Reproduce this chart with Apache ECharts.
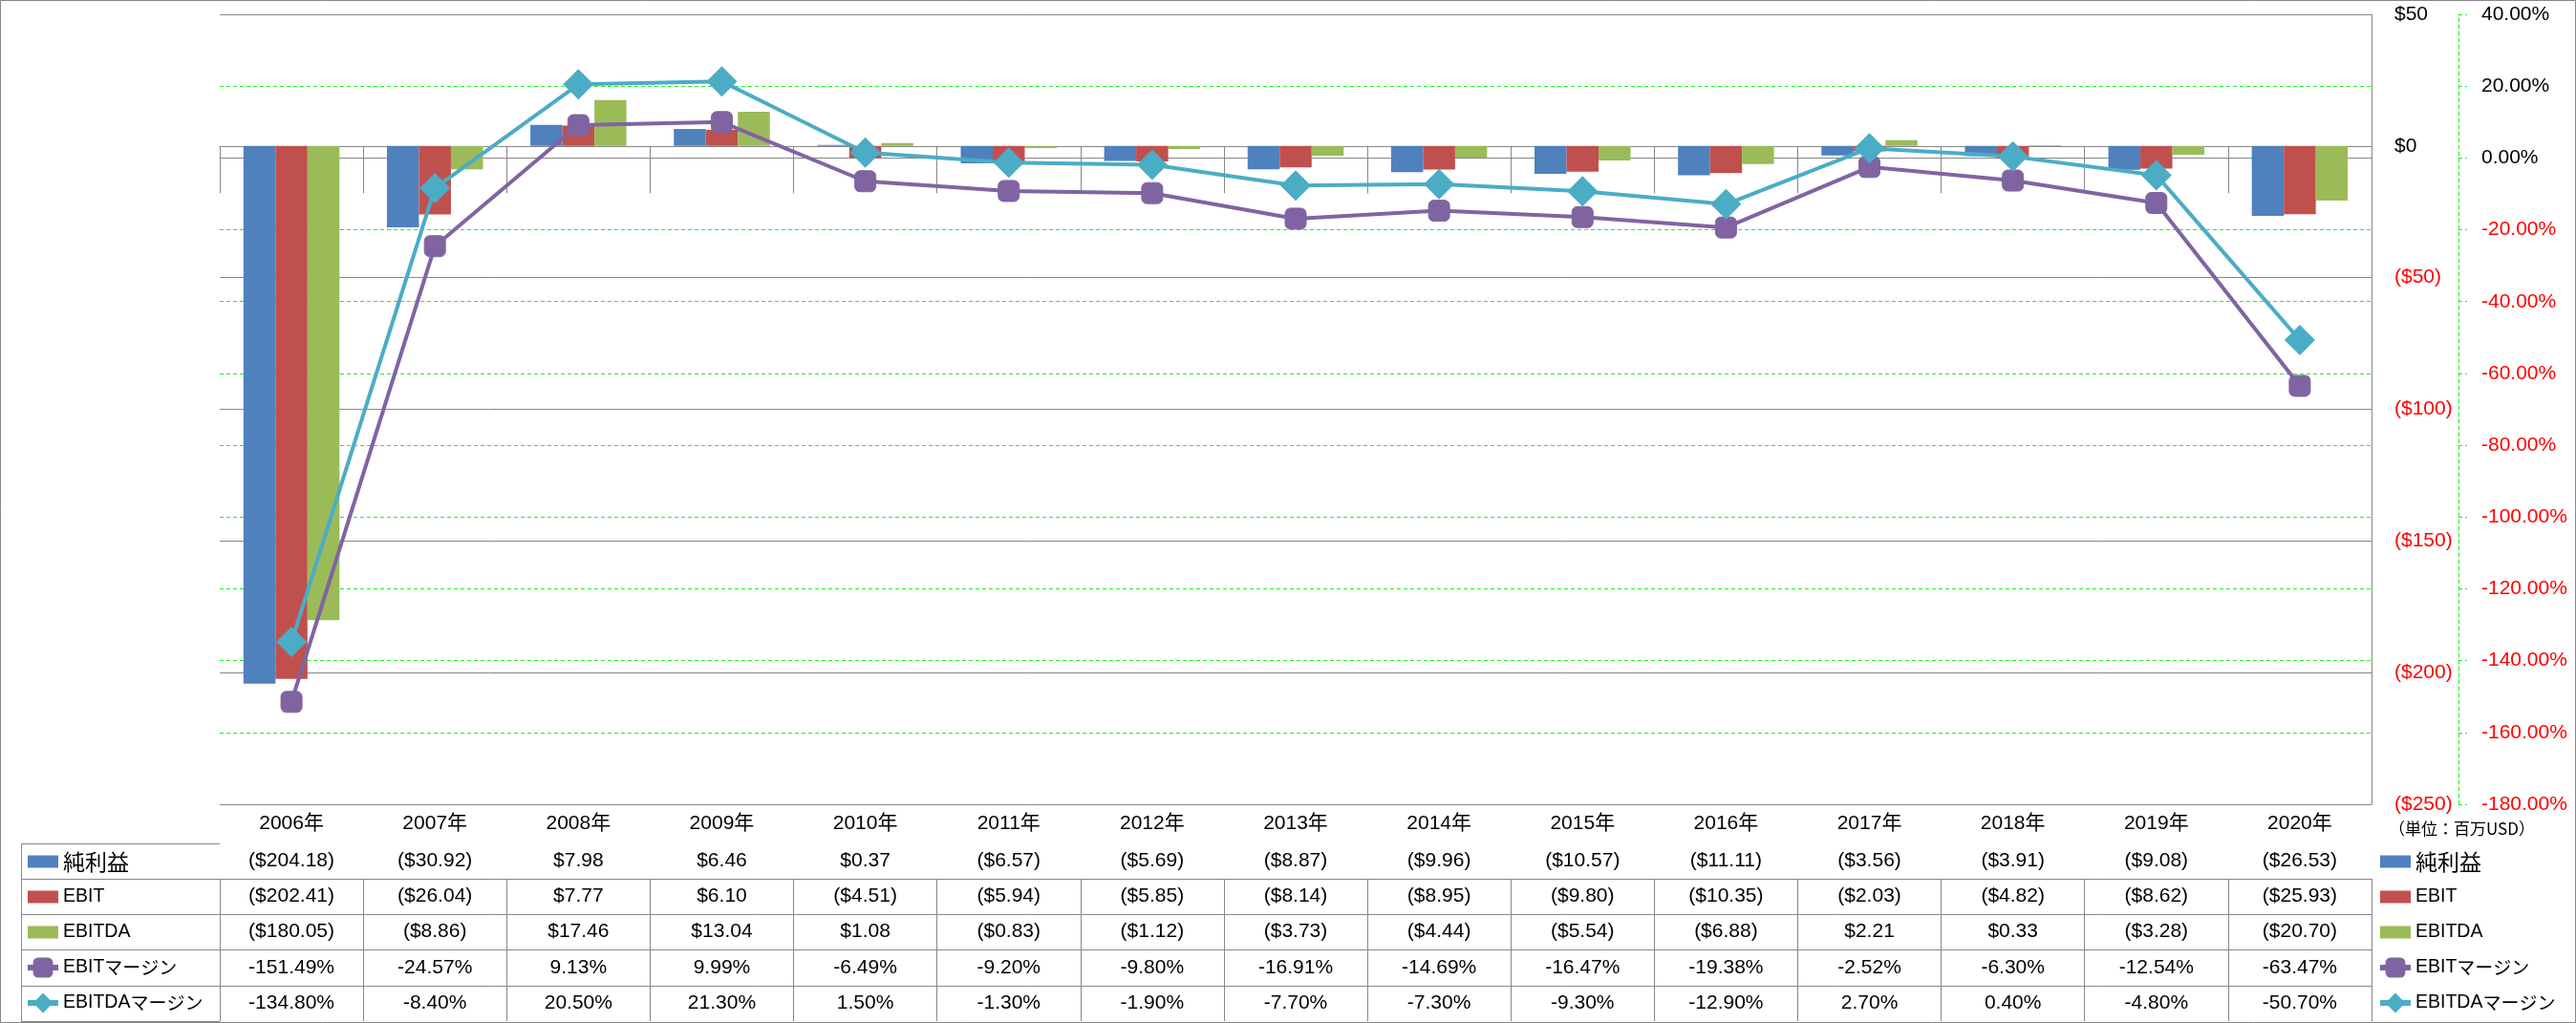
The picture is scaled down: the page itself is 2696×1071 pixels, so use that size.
<!DOCTYPE html>
<html><head><meta charset="utf-8">
<script src="https://cdn.jsdelivr.net/npm/echarts@6/dist/echarts.min.js"></script>
<style>html,body{margin:0;padding:0;background:#fff}#c{width:2696px;height:1071px}</style>
</head><body><div id="c"></div>
<script>
const years = ['2006年','2007年','2008年','2009年','2010年','2011年','2012年','2013年','2014年','2015年','2016年','2017年','2018年','2019年','2020年'];
const netIncome = [-204.18,-30.92,7.98,6.46,0.37,-6.57,-5.69,-8.87,-9.96,-10.57,-11.11,-3.56,-3.91,-9.08,-26.53];
const ebit = [-202.41,-26.04,7.77,6.10,-4.51,-5.94,-5.85,-8.14,-8.95,-9.80,-10.35,-2.03,-4.82,-8.62,-25.93];
const ebitda = [-180.05,-8.86,17.46,13.04,1.08,-0.83,-1.12,-3.73,-4.44,-5.54,-6.88,2.21,0.33,-3.28,-20.70];
const ebitMargin = [-151.49,-24.57,9.13,9.99,-6.49,-9.20,-9.80,-16.91,-14.69,-16.47,-19.38,-2.52,-6.30,-12.54,-63.47];
const ebitdaMargin = [-134.80,-8.40,20.50,21.30,1.50,-1.30,-1.90,-7.70,-7.30,-9.30,-12.90,2.70,0.40,-4.80,-50.70];
const seriesNames = ['純利益','EBIT','EBITDA','EBITマージン','EBITDAマージン'];
const unitText = '（単位：百万USD）';

const FONT = "'Liberation Sans','Noto Sans CJK JP',sans-serif";
const CJK = "'Noto Sans CJK JP',sans-serif";
const GRAY = '#878787';
const GREEN = '#22ee22';
const RED = '#ff0000';
const COLORS = ['#4F81BD','#C0504D','#9BBB59','#8064A2','#4BACC6'];

const money = v => v < 0 ? '($' + Math.abs(v).toFixed(2) + ')' : '$' + v.toFixed(2);
const pct = v => v.toFixed(2) + '%';

const gridTop = 15, gridBottomY = 842, W = 2696, H = 1071;
const rowTops = [883, 920, 957, 994, 1032];
const rowBottoms = [920, 957, 994, 1032, 1069];
const rowData = [netIncome.map(money), ebit.map(money), ebitda.map(money), ebitMargin.map(pct), ebitdaMargin.map(pct)];

const xAxes = [{
  type:'category', data: years, position:'bottom', gridIndex:0,
  axisLine:{show:true, lineStyle:{color:GRAY, width:1}},
  axisTick:{show:true, length: rowTops[0]-gridBottomY, lineStyle:{color:GRAY, width:1}, interval:0},
  axisLabel:{interval:0, margin:(rowTops[0]-gridBottomY)/2, verticalAlign:'middle', fontSize:21, fontFamily:FONT, color:'#000'},
  splitLine:{show:false}
}];
rowData.forEach((arr, k) => {
  const off = rowTops[k]-gridBottomY, h = rowBottoms[k]-rowTops[k];
  xAxes.push({
    type:'category', data: arr, position:'bottom', gridIndex:0, offset: off,
    axisLine:{show:true, lineStyle:{color:GRAY, width:1}},
    axisTick:{show:true, length:h, lineStyle:{color:GRAY, width:1}, interval:0},
    axisLabel:{interval:0, margin:h/2, verticalAlign:'middle', fontSize:21, fontFamily:FONT, color:'#000'},
    splitLine:{show:false}
  });
});

const graphics = [
  {type:'rect', shape:{x:0.5,y:0.5,width:W-1,height:H-1}, style:{fill:null, stroke:GRAY, lineWidth:1}, silent:true},
  {type:'text', left:2500, top:859, style:{text:unitText, font:"17px 'Noto Sans CJK JP'", fill:'#000'}},
  {type:'line', shape:{x1:22.5,y1:rowTops[0],x2:22.5,y2:rowBottoms[4]}, style:{stroke:GRAY, lineWidth:1}}
];
rowTops.concat([rowBottoms[4]]).forEach(y => {
  graphics.push({type:'line', shape:{x1:22,y1:y+0.5,x2:230,y2:y+0.5}, style:{stroke:GRAY, lineWidth:1}});
});

const barIcon = 'path://M0,0L32,0L32,13L0,13Z';
const legendFormatter = name => {
  if (name === '純利益') return '{k|' + name + '}';
  const m = name.match(/^([A-Za-z]+)(.*)$/);
  return '{l|' + m[1] + '}' + (m[2] ? '{m|' + m[2] + '}' : '');
};
const legendBase = {
  orient:'vertical', top:889, itemWidth:32, itemHeight:26, itemGap:11, padding:0,
  symbolKeepAspect:true,
  lineStyle:{width:6},
  formatter: legendFormatter,
  textStyle:{fontSize:20, lineHeight:26, fontFamily:FONT, color:'#000',
    rich:{k:{fontSize:23, fontFamily:CJK, color:'#000', lineHeight:26},
          l:{fontSize:19.5, fontFamily:FONT, color:'#000', lineHeight:26},
          m:{fontSize:19, fontFamily:CJK, color:'#000', lineHeight:26}}},
  data:[{name:seriesNames[0],icon:barIcon},{name:seriesNames[1],icon:barIcon},{name:seriesNames[2],icon:barIcon},{name:seriesNames[3]},{name:seriesNames[4]}]
};

const barSeries = [netIncome, ebit, ebitda].map((d,i) => ({
  name: seriesNames[i], type:'bar', data:d, xAxisIndex:0, yAxisIndex:0,
  barWidth:33.5, barGap:'0%', itemStyle:{color:COLORS[i]}, z:2
}));

const option = {
  animation:false,
  backgroundColor:'#fff',
  textStyle:{fontFamily:FONT},
  grid:{left:230, right:W-2482, top:gridTop, bottom:H-gridBottomY, containLabel:false},
  legend:[Object.assign({left:26}, legendBase), Object.assign({left:2488}, legendBase)],
  xAxis: xAxes,
  yAxis:[{
    type:'value', position:'right', min:-250, max:50, interval:50, z:1,
    axisLine:{show:true, lineStyle:{color:GRAY, width:1}},
    axisTick:{show:false},
    splitLine:{show:true, lineStyle:{color:GRAY, width:1}},
    axisLabel:{margin:24, fontSize:21, fontFamily:FONT,
      formatter: v => v < 0 ? '{n|($' + Math.abs(v) + ')}' : '{p|$' + v + '}',
      rich:{n:{color:RED, fontSize:21, fontFamily:FONT}, p:{color:'#000', fontSize:21, fontFamily:FONT}}}
  },{
    type:'value', position:'right', offset:91, min:-180, max:40, interval:20, z:0,
    axisLine:{show:true, lineStyle:{color:GREEN, width:1, type:[4,3]}},
    axisTick:{show:true, length:9, lineStyle:{color:GREEN, width:1, type:[4,3]}},
    splitLine:{show:true, lineStyle:{color:GREEN, width:1, type:[4,3]}},
    axisLabel:{margin:24, fontSize:21, fontFamily:FONT,
      formatter: v => v < 0 ? '{n|' + v.toFixed(2) + '%}' : '{p|' + v.toFixed(2) + '%}',
      rich:{n:{color:RED, fontSize:21, fontFamily:FONT}, p:{color:'#000', fontSize:21, fontFamily:FONT}}}
  }],
  graphic: graphics,
  series: barSeries.concat([
    {name:seriesNames[3], type:'line', data:ebitMargin, xAxisIndex:0, yAxisIndex:1,
     symbol:'roundRect', symbolSize:22, lineStyle:{color:COLORS[3], width:4},
     itemStyle:{color:COLORS[3], borderColor:COLORS[3]}, z:5},
    {name:seriesNames[4], type:'line', data:ebitdaMargin, xAxisIndex:0, yAxisIndex:1,
     symbol:'diamond', symbolSize:32, lineStyle:{color:COLORS[4], width:4},
     itemStyle:{color:COLORS[4]}, z:6}
  ])
};
const chart = echarts.init(document.getElementById('c'), null, {renderer:'canvas'});
chart.setOption(option);
</script></body></html>
